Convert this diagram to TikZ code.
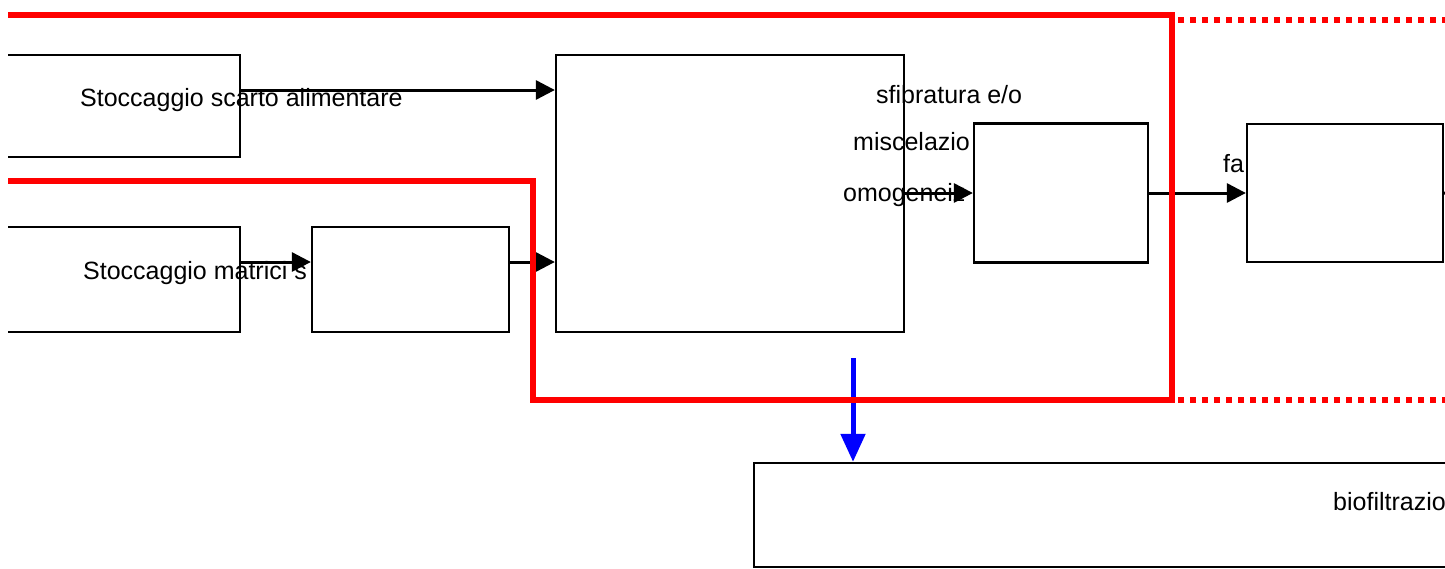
\documentclass[tikz,border=0pt]{standalone}
\usepackage{fontspec}
\setmainfont{Liberation Sans}
\usetikzlibrary{arrows.meta}

\begin{document}
\begin{tikzpicture}[x=1pt,y=1pt,yscale=-1,
  blk/.style={draw, line width=2.3pt, inner sep=0pt},
  wblk/.style={blk, fill=white},
  lbl/.style={anchor=base west, inner sep=0pt, font=\fontsize{25}{30}\selectfont},
  flow/.style={line width=3pt, -{Triangle[length=19pt,width=19pt]}},
  redline/.style={red, line width=5.5pt},
  reddots/.style={red, line width=6pt, dash pattern=on 6pt off 6pt}]

\useasboundingbox (0,0) rectangle (1445,568);
\clip (8,0) rectangle (1445,568);

\node [blk, minimum width=300, minimum height=102] (scarto) at (90,106) {};
\node [blk, minimum width=300, minimum height=105] (matrici) at (90,279.5) {};
\node [blk, minimum width=348, minimum height=277] (sfibr) at (730,193.5) {};
\node [blk, minimum width=846, minimum height=104] (biofil) at (1177,515) {};

\draw (80,106) node [lbl] (tscarto) {Stoccaggio scarto alimentare};
\draw (83,279) node [lbl] (tmatrici) {Stoccaggio matrici s};
\draw (876,103) node [lbl] (tsfibr1) {sfibratura e/o};
\draw (853,150) node [lbl] (tsfibr2) {miscelazio};
\draw (843,201) node [lbl] (tsfibr3) {omogeneiz};
\draw (1223,172) node [lbl] (tfa) {fa};
\draw (1333,510) node [lbl] (tbiofil) {biofiltrazio};

\node [wblk, minimum width=197, minimum height=105] (triturazione) at (410.5,279.5) {};
\node [wblk, minimum width=174, minimum height=139] (cumulo) at (1061,193) {};
\node [wblk, minimum width=196, minimum height=138] (fase) at (1345,193) {};
\coordinate (faseout) at (1475,194);
\coordinate (aria) at (853,358);

% flussi di materiale
\draw [flow] ([yshift=-16pt]scarto.east) -- ([yshift=-16pt]scarto.east -| sfibr.west);
\draw [flow] ([yshift=-17.5pt]matrici.east) -- ([yshift=-17.5pt]triturazione.west);
\draw [flow] ([yshift=-17.5pt]triturazione.east) -- ([yshift=-17.5pt]triturazione.east -| sfibr.west);
\draw [flow] (sfibr.east |- cumulo.west) -- (cumulo.west);
\draw [flow] (cumulo.east) -- (fase.west);
\draw [line width=3pt] (fase.east) -- (faseout);

% aria verso biofiltro
\draw [blue, line width=5pt, -{Triangle[length=28pt,width=24pt]}] (aria) -- (aria |- biofil.north);

% confine area chiusa
\draw [redline] (-20,15) -- (1172,15) -- (1172,400) -- (533,400) -- (533,181) -- (-20,181);
\draw [reddots] (1178,19.5) -- (1460,19.5);
\draw [reddots] (1178,400) -- (1460,400);

\end{tikzpicture}
\end{document}
